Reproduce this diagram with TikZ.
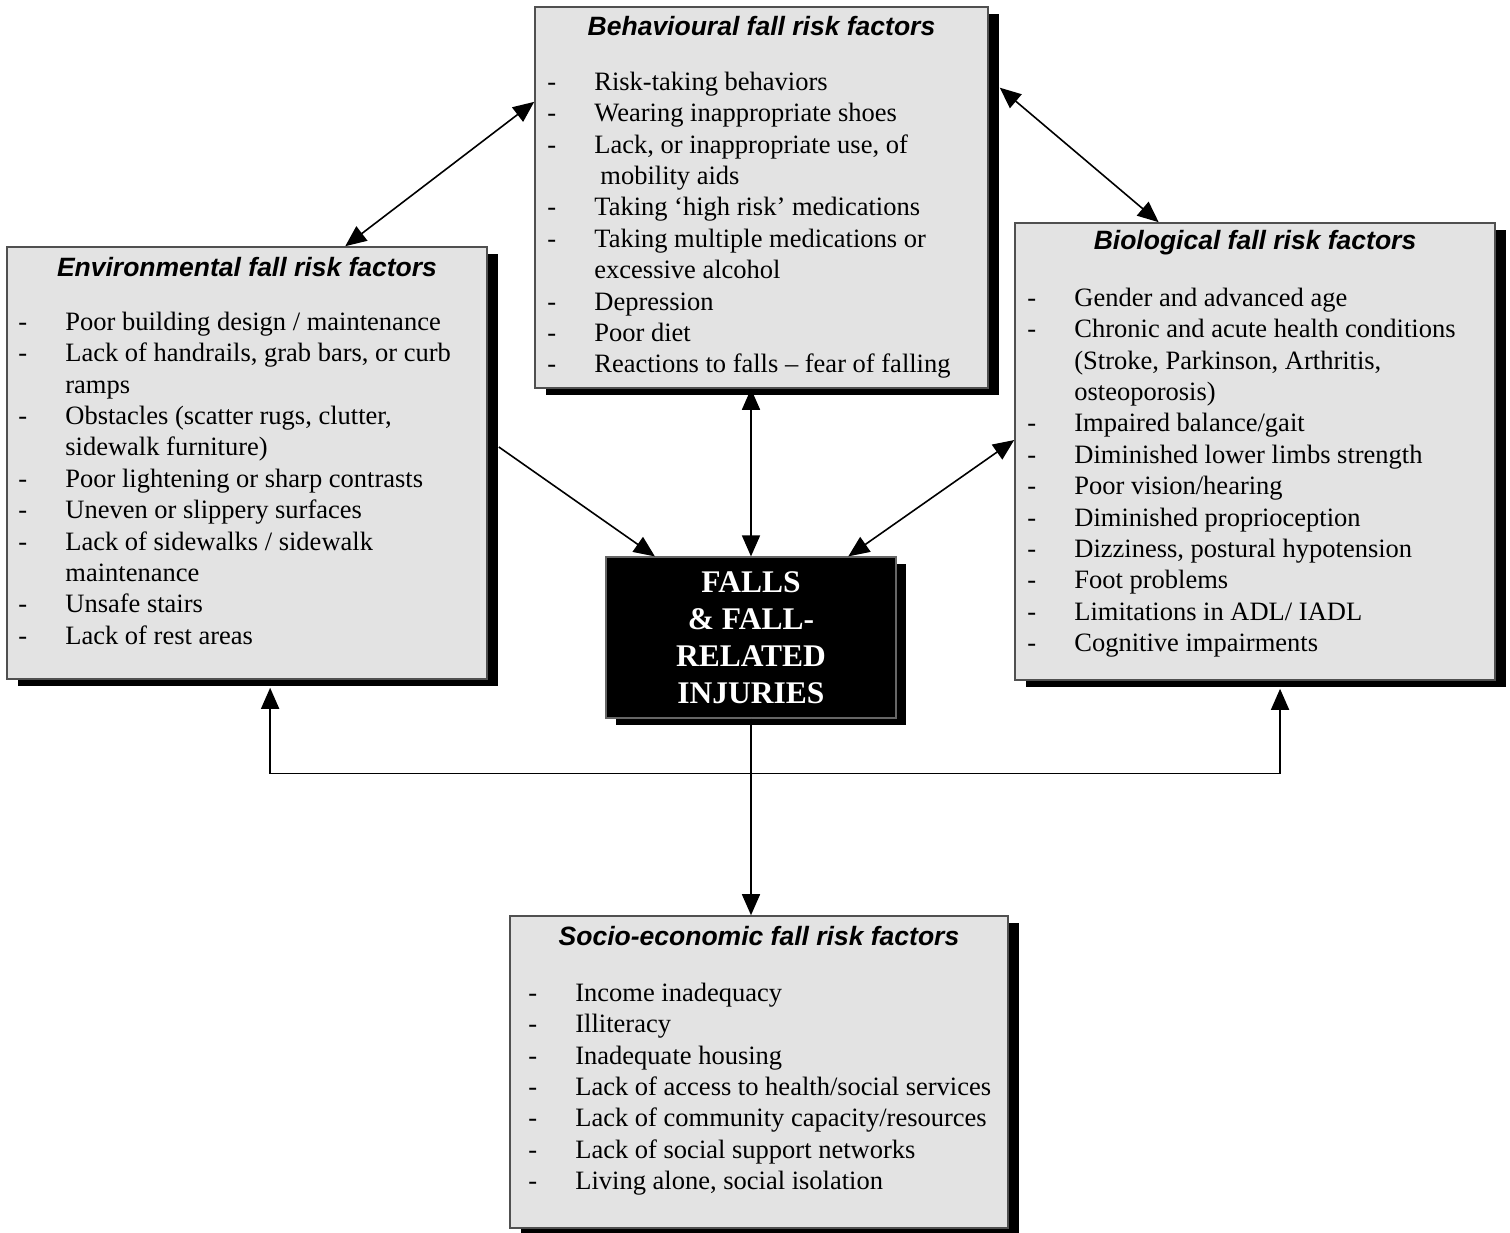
\documentclass[tikz,border=0pt]{standalone}
\usepackage{fontspec}
\setmainfont{Liberation Serif}
\setsansfont{Liberation Sans}
\usetikzlibrary{arrows.meta,positioning,calc,shadows}
\definecolor{boxgray}{RGB}{227,227,227}
\definecolor{edgegray}{RGB}{80,80,80}
\newcommand{\fitem}[1]{\strut\makebox[47pt][l]{-}#1}
\newcommand{\fmore}[1]{\strut\hspace*{47pt}#1}

\begin{document}
\begin{tikzpicture}[x=1pt, y=-1pt,
  riskbox/.style={draw=edgegray, line width=1.6pt, fill=boxgray, inner sep=0pt,
    drop shadow={fill=black, opacity=1, shadow xshift=11pt, shadow yshift=-7pt}},
  corebox/.style={draw=black!60, line width=1.2pt, fill=black, text=white, inner sep=0pt,
    align=center, font=\fontsize{31.5}{37}\selectfont\bfseries,
    drop shadow={fill=black, opacity=1, shadow xshift=10pt, shadow yshift=-7pt}},
  boxhead/.style={font=\fontsize{26.5}{30}\selectfont\sffamily\bfseries\itshape, inner sep=0pt},
  boxlist/.style={anchor=north west, align=left, inner sep=0pt, font=\fontsize{26.5}{31.4}\selectfont},
  tip/.style={line width=1.6pt, -{Triangle[length=21pt, width=18pt]}},
  twoway/.style={line width=1.6pt, {Triangle[length=21pt, width=18pt]}-{Triangle[length=21pt, width=18pt]}}
]
\useasboundingbox (0,0) rectangle (1510,1232);

% risk factor boxes
\node[riskbox, minimum width=453pt, minimum height=381pt] (behav) at (761.5,197.5) {};
\node[riskbox, minimum width=480pt, minimum height=432pt] (env) at (247,463) {};
\node[riskbox, minimum width=480pt, minimum height=457pt] (bio) at (1255,451.5) {};
\node[riskbox, minimum width=498pt, minimum height=312pt] (socio) at (759,1072) {};
\node[corebox, minimum width=290pt, minimum height=161pt] (falls) at (751,637.5)
  {FALLS\\\& FALL-\\RELATED\\INJURIES};

\node[boxhead] (behavhead) at ([yshift=-20pt]behav.north) {Behavioural fall risk factors};
\node[boxlist] (behavlist) at ([xshift=13pt, yshift=-62pt]behav.north west) {%
  \fitem{Risk-taking behaviors}\\
  \fitem{Wearing inappropriate shoes}\\
  \fitem{Lack, or inappropriate use, of}\\
  \fmore{\hspace{6pt}mobility aids}\\
  \fitem{Taking ‘high risk’ medications}\\
  \fitem{Taking multiple medications or}\\
  \fmore{excessive alcohol}\\
  \fitem{Depression}\\
  \fitem{Poor diet}\\
  \fitem{Reactions to falls – fear of falling}};

\node[boxhead] (envhead) at ([yshift=-21pt]env.north) {Environmental fall risk factors};
\node[boxlist] (envlist) at ([xshift=12pt, yshift=-62pt]env.north west) {%
  \fitem{Poor building design / maintenance}\\
  \fitem{Lack of handrails, grab bars, or curb}\\
  \fmore{ramps}\\
  \fitem{Obstacles (scatter rugs, clutter,}\\
  \fmore{sidewalk furniture)}\\
  \fitem{Poor lightening or sharp contrasts}\\
  \fitem{Uneven or slippery surfaces}\\
  \fitem{Lack of sidewalks / sidewalk}\\
  \fmore{maintenance}\\
  \fitem{Unsafe stairs}\\
  \fitem{Lack of rest areas}};

\node[boxhead] (biohead) at ([yshift=-20pt]bio.north) {Biological fall risk factors};
\node[boxlist] (biolist) at ([xshift=13pt, yshift=-62pt]bio.north west) {%
  \fitem{Gender and advanced age}\\
  \fitem{Chronic and acute health conditions}\\
  \fmore{(Stroke, Parkinson, Arthritis,}\\
  \fmore{osteoporosis)}\\
  \fitem{Impaired balance/gait}\\
  \fitem{Diminished lower limbs strength}\\
  \fitem{Poor vision/hearing}\\
  \fitem{Diminished proprioception}\\
  \fitem{Dizziness, postural hypotension}\\
  \fitem{Foot problems}\\
  \fitem{Limitations in ADL/ IADL}\\
  \fitem{Cognitive impairments}};

\node[boxhead] (sociohead) at ([yshift=-21pt]socio.north) {Socio-economic fall risk factors};
\node[boxlist] (sociolist) at ([xshift=19pt, yshift=-64pt]socio.north west) {%
  \fitem{Income inadequacy}\\
  \fitem{Illiteracy}\\
  \fitem{Inadequate housing}\\
  \fitem{Lack of access to health/social services}\\
  \fitem{Lack of community capacity/resources}\\
  \fitem{Lack of social support networks}\\
  \fitem{Living alone, social isolation}};

% links
\draw[twoway] ($(env.north west)!.704!(env.north east)$) -- ($(behav.north west)!.25!(behav.south west)$);
\draw[twoway] ([xshift=11pt]$(behav.north east)!.213!(behav.south east)$) -- ($(bio.north west)!.30!(bio.north east)$);
\draw[tip] ([xshift=11pt]$(env.north east)!.463!(env.south east)$) -- ($(falls.north west)!.17!(falls.north east)$);
\draw[twoway] (falls.north) -- (falls.north |- behav.south);
\draw[twoway] ($(bio.north west)!.475!(bio.south west)$) -- ($(falls.north west)!.834!(falls.north east)$);
\draw[tip] (falls.south) -- (falls.south |- socio.north);

\coordinate (tee) at ([yshift=-55pt]falls.south);
\draw[tip] (tee) -| ([yshift=-8pt]$(env.south west)!.548!(env.south east)$);
\draw[tip] (tee) -| ([yshift=-8pt]$(bio.south west)!.552!(bio.south east)$);
\end{tikzpicture}
\end{document}
